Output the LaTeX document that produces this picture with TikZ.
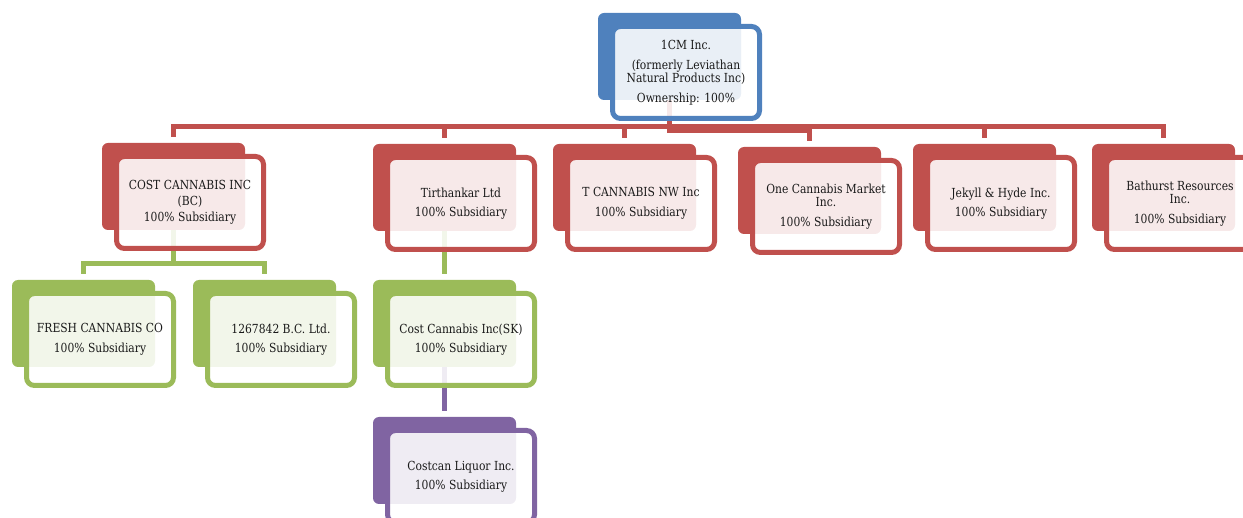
\documentclass[tikz,border=0pt]{standalone}
\usepackage{fontspec}
\setmainfont{DejaVu Serif}[FakeStretch=0.86]
\definecolor{ored}{HTML}{C0504D}
\definecolor{ogreen}{HTML}{9BBB59}
\definecolor{opurple}{HTML}{8064A2}
\definecolor{oblue}{HTML}{4F81BD}
\pgfdeclarelayer{background}
\pgfsetlayers{background,main}
\tikzset{
  backbox/.style={rectangle, fill=#1, draw=none, rounded corners=6pt,
    minimum width=143pt, minimum height=87pt, inner sep=0pt},
  frontbox/.style={rectangle, draw=#1, line width=5pt, fill=white, fill opacity=0.88,
    text opacity=1, rounded corners=8pt, minimum width=147pt, minimum height=92pt,
    inner sep=0pt, align=center, text=black!90,
    font=\fontsize{12.5}{13.5}\selectfont},
  conn/.style={draw=#1, line width=5pt, shorten >=6pt}
}
\newcommand\orgbox[5]{%
  \node[backbox=#2] (#1-b) at (#3+71.5, #4+43.5) {};
  \node[frontbox=#2] (#1) at (#3+88, #4+59.5) {#5};
}
\begin{document}
\begin{tikzpicture}[x=1pt,y=-1pt]
\useasboundingbox (0,0) rectangle (1243,518);
\clip (0,0) rectangle (1243,518);

\orgbox{cm}{oblue}{598}{13}{1CM Inc.\\[6pt](formerly Leviathan\\Natural Products Inc)\\[6pt]Ownership: 100\%}

\orgbox{cost}{ored}{102}{143}{COST CANNABIS INC\\[2.5pt](BC)\\[3pt]100\% Subsidiary}
\orgbox{tirth}{ored}{373}{144}{Tirthankar Ltd\\[6pt]100\% Subsidiary}
\orgbox{tcan}{ored}{553}{144}{T CANNABIS NW Inc\\[6pt]100\% Subsidiary}
\orgbox{one}{ored}{738}{147}{One Cannabis Market\\Inc.\\[6pt]100\% Subsidiary}
\orgbox{jek}{ored}{913}{144}{Jekyll \& Hyde Inc.\\[6pt]100\% Subsidiary}
\orgbox{bath}{ored}{1092}{144}{Bathurst Resources\\Inc.\\[6pt]100\% Subsidiary}

\orgbox{fresh}{ogreen}{12}{280}{FRESH CANNABIS CO\\[6pt]100\% Subsidiary}
\orgbox{bc}{ogreen}{193}{280}{1267842 B.C. Ltd.\\[6pt]100\% Subsidiary}
\orgbox{sk}{ogreen}{373}{280}{Cost Cannabis Inc(SK)\\[6pt]100\% Subsidiary}

\orgbox{liq}{opurple}{373}{417}{Costcan Liquor Inc.\\[6pt]100\% Subsidiary}

\begin{pgfonlayer}{background}
  \foreach \c in {cost,tirth,tcan,jek,bath}
    \draw[conn=ored] (cm-b.south) -- ++(0,26) -| (\c-b.north);
  \draw[conn=ored] (cm-b.south) -- ++(0,30.5) -| (one-b.north);
  \draw[conn=ogreen] (cost-b.south) -- ++(0,33) -| (fresh-b.north);
  \draw[conn=ogreen] (cost-b.south) -- ++(0,33) -| (bc-b.north);
  \draw[conn=ogreen] (tirth-b.south) -- (sk-b.north);
  \draw[conn=opurple] (sk-b.south) -- (liq-b.north);
\end{pgfonlayer}
\end{tikzpicture}
\end{document}
